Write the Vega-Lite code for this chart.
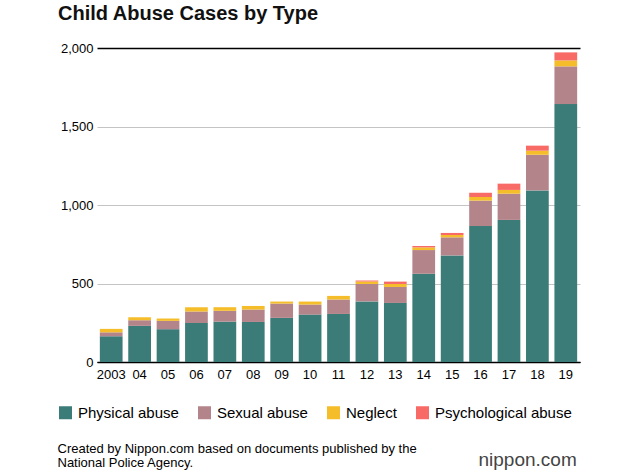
{
  "$schema": "https://vega.github.io/schema/vega-lite/v6.json",
  "width": 483,
  "height": 314,
  "autosize": {"type": "none"},
  "padding": {"left": 97, "top": 48, "right": 50, "bottom": 110},
  "background": "white",
  "config": {"font": "Liberation Sans", "view": {"stroke": null}},
  "title": {
    "text": "Child Abuse Cases by Type",
    "anchor": "start",
    "frame": "group",
    "dx": -39,
    "offset": 18,
    "fontSize": 20,
    "fontWeight": "bold",
    "color": "#111111",
    "font": "Liberation Sans"
  },
  "data": {
    "values": [
      {"year": 2003, "label": "2003", "type": "Physical abuse", "o": 1, "cases": 164},
      {"year": 2003, "label": "2003", "type": "Sexual abuse", "o": 2, "cases": 25},
      {"year": 2003, "label": "2003", "type": "Neglect", "o": 3, "cases": 22},
      {"year": 2003, "label": "2003", "type": "Psychological abuse", "o": 4, "cases": 0},
      {"year": 2004, "label": "04", "type": "Physical abuse", "o": 1, "cases": 230},
      {"year": 2004, "label": "04", "type": "Sexual abuse", "o": 2, "cases": 36},
      {"year": 2004, "label": "04", "type": "Neglect", "o": 3, "cases": 19},
      {"year": 2004, "label": "04", "type": "Psychological abuse", "o": 4, "cases": 0},
      {"year": 2005, "label": "05", "type": "Physical abuse", "o": 1, "cases": 209},
      {"year": 2005, "label": "05", "type": "Sexual abuse", "o": 2, "cases": 53},
      {"year": 2005, "label": "05", "type": "Neglect", "o": 3, "cases": 15},
      {"year": 2005, "label": "05", "type": "Psychological abuse", "o": 4, "cases": 0},
      {"year": 2006, "label": "06", "type": "Physical abuse", "o": 1, "cases": 249},
      {"year": 2006, "label": "06", "type": "Sexual abuse", "o": 2, "cases": 72},
      {"year": 2006, "label": "06", "type": "Neglect", "o": 3, "cases": 28},
      {"year": 2006, "label": "06", "type": "Psychological abuse", "o": 4, "cases": 0},
      {"year": 2007, "label": "07", "type": "Physical abuse", "o": 1, "cases": 257},
      {"year": 2007, "label": "07", "type": "Sexual abuse", "o": 2, "cases": 69},
      {"year": 2007, "label": "07", "type": "Neglect", "o": 3, "cases": 23},
      {"year": 2007, "label": "07", "type": "Psychological abuse", "o": 4, "cases": 0},
      {"year": 2008, "label": "08", "type": "Physical abuse", "o": 1, "cases": 255},
      {"year": 2008, "label": "08", "type": "Sexual abuse", "o": 2, "cases": 79},
      {"year": 2008, "label": "08", "type": "Neglect", "o": 3, "cases": 23},
      {"year": 2008, "label": "08", "type": "Psychological abuse", "o": 4, "cases": 0},
      {"year": 2009, "label": "09", "type": "Physical abuse", "o": 1, "cases": 281},
      {"year": 2009, "label": "09", "type": "Sexual abuse", "o": 2, "cases": 91},
      {"year": 2009, "label": "09", "type": "Neglect", "o": 3, "cases": 13},
      {"year": 2009, "label": "09", "type": "Psychological abuse", "o": 4, "cases": 0},
      {"year": 2010, "label": "10", "type": "Physical abuse", "o": 1, "cases": 302},
      {"year": 2010, "label": "10", "type": "Sexual abuse", "o": 2, "cases": 64},
      {"year": 2010, "label": "10", "type": "Neglect", "o": 3, "cases": 19},
      {"year": 2010, "label": "10", "type": "Psychological abuse", "o": 4, "cases": 0},
      {"year": 2011, "label": "11", "type": "Physical abuse", "o": 1, "cases": 306},
      {"year": 2011, "label": "11", "type": "Sexual abuse", "o": 2, "cases": 92},
      {"year": 2011, "label": "11", "type": "Neglect", "o": 3, "cases": 23},
      {"year": 2011, "label": "11", "type": "Psychological abuse", "o": 4, "cases": 0},
      {"year": 2012, "label": "12", "type": "Physical abuse", "o": 1, "cases": 386},
      {"year": 2012, "label": "12", "type": "Sexual abuse", "o": 2, "cases": 111},
      {"year": 2012, "label": "12", "type": "Neglect", "o": 3, "cases": 16},
      {"year": 2012, "label": "12", "type": "Psychological abuse", "o": 4, "cases": 6},
      {"year": 2013, "label": "13", "type": "Physical abuse", "o": 1, "cases": 376},
      {"year": 2013, "label": "13", "type": "Sexual abuse", "o": 2, "cases": 102},
      {"year": 2013, "label": "13", "type": "Neglect", "o": 3, "cases": 19},
      {"year": 2013, "label": "13", "type": "Psychological abuse", "o": 4, "cases": 15},
      {"year": 2014, "label": "14", "type": "Physical abuse", "o": 1, "cases": 562},
      {"year": 2014, "label": "14", "type": "Sexual abuse", "o": 2, "cases": 151},
      {"year": 2014, "label": "14", "type": "Neglect", "o": 3, "cases": 17},
      {"year": 2014, "label": "14", "type": "Psychological abuse", "o": 4, "cases": 9},
      {"year": 2015, "label": "15", "type": "Physical abuse", "o": 1, "cases": 679},
      {"year": 2015, "label": "15", "type": "Sexual abuse", "o": 2, "cases": 115},
      {"year": 2015, "label": "15", "type": "Neglect", "o": 3, "cases": 15},
      {"year": 2015, "label": "15", "type": "Psychological abuse", "o": 4, "cases": 13},
      {"year": 2016, "label": "16", "type": "Physical abuse", "o": 1, "cases": 866},
      {"year": 2016, "label": "16", "type": "Sexual abuse", "o": 2, "cases": 162},
      {"year": 2016, "label": "16", "type": "Neglect", "o": 3, "cases": 23},
      {"year": 2016, "label": "16", "type": "Psychological abuse", "o": 4, "cases": 27},
      {"year": 2017, "label": "17", "type": "Physical abuse", "o": 1, "cases": 905},
      {"year": 2017, "label": "17", "type": "Sexual abuse", "o": 2, "cases": 167},
      {"year": 2017, "label": "17", "type": "Neglect", "o": 3, "cases": 24},
      {"year": 2017, "label": "17", "type": "Psychological abuse", "o": 4, "cases": 40},
      {"year": 2018, "label": "18", "type": "Physical abuse", "o": 1, "cases": 1093},
      {"year": 2018, "label": "18", "type": "Sexual abuse", "o": 2, "cases": 227},
      {"year": 2018, "label": "18", "type": "Neglect", "o": 3, "cases": 26},
      {"year": 2018, "label": "18", "type": "Psychological abuse", "o": 4, "cases": 32},
      {"year": 2019, "label": "19", "type": "Physical abuse", "o": 1, "cases": 1643},
      {"year": 2019, "label": "19", "type": "Sexual abuse", "o": 2, "cases": 240},
      {"year": 2019, "label": "19", "type": "Neglect", "o": 3, "cases": 38},
      {"year": 2019, "label": "19", "type": "Psychological abuse", "o": 4, "cases": 51}
    ]
  },
  "mark": {"type": "bar"},
  "encoding": {
    "x": {
      "field": "label",
      "type": "ordinal",
      "sort": {"field": "year", "op": "min"},
      "scale": {"paddingInner": 0.2, "paddingOuter": 0.1},
      "axis": {
        "labelAngle": 0,
        "labelFontSize": 13,
        "labelColor": "#000000",
        "labelPadding": 6,
        "ticks": false,
        "domain": true,
        "domainColor": "#000000",
        "domainWidth": 1.5,
        "title": ["Created by Nippon.com based on documents published by the", "National Police Agency."],
        "titleX": -40,
        "titleY": 90,
        "titleAlign": "left",
        "titleAnchor": "start",
        "titleBaseline": "alphabetic",
        "titleFontSize": 13,
        "titleFontWeight": "normal",
        "titleLineHeight": 14,
        "titleColor": "#000000"
      }
    },
    "y": {
      "field": "cases",
      "type": "quantitative",
      "stack": "zero",
      "scale": {"domain": [0, 2000], "nice": false},
      "axis": {
        "values": [0, 500, 1000, 1500, 2000],
        "format": ",d",
        "labelFontSize": 13,
        "labelColor": "#000000",
        "labelPadding": 4,
        "ticks": false,
        "domain": false,
        "grid": true,
        "gridColor": {"condition": {"test": "datum.value == 2000 || datum.value == 0", "value": "#000000"}, "value": "#c4c4c4"},
        "gridWidth": {"condition": {"test": "datum.value == 2000", "value": 1.5}, "value": 1.2},
        "title": "nippon.com",
        "titleAngle": 0,
        "titleX": 381,
        "titleY": 417,
        "titleAlign": "left",
        "titleBaseline": "alphabetic",
        "titleFontSize": 19,
        "titleFontWeight": "normal",
        "titleColor": "#444444"
      }
    },
    "color": {
      "field": "type",
      "type": "nominal",
      "scale": {
        "domain": ["Physical abuse", "Sexual abuse", "Neglect", "Psychological abuse"],
        "range": ["#3b7c78", "#b4848b", "#f5bd2a", "#f86a66"]
      },
      "legend": {
        "orient": "none",
        "legendX": -39,
        "legendY": 357,
        "direction": "horizontal",
        "title": null,
        "symbolType": "square",
        "symbolSize": 169,
        "symbolStrokeWidth": 0,
        "symbolOpacity": 1,
        "labelFontSize": 15,
        "labelColor": "#000000",
        "labelOffset": 5,
        "columnPadding": 18,
        "padding": 0
      }
    },
    "order": {"field": "o", "type": "quantitative", "sort": "ascending"}
  }
}
